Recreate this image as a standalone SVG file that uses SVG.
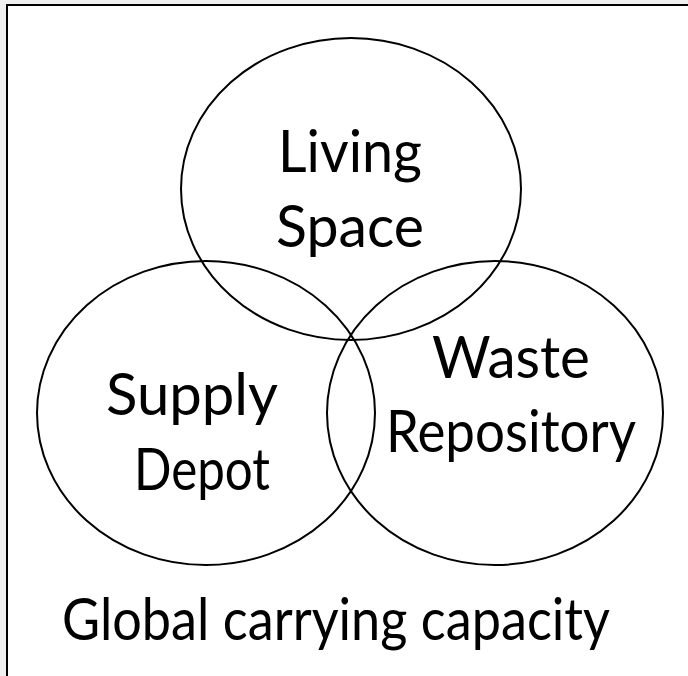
<svg xmlns="http://www.w3.org/2000/svg" width="688" height="676" viewBox="0 0 688 676">
<style>
.c{fill:none;stroke:#000;stroke-width:2}
.t{font-family:Lato,"Open Sans","Liberation Sans",sans-serif;font-size:59px;fill:#000;text-anchor:middle}
</style>
<rect x="0" y="0" width="688" height="676" fill="#f0f0f0"/>
<rect x="6" y="4" width="682" height="672" fill="#fff"/>
<path d="M7 676V5H688" fill="none" stroke="#000" stroke-width="2"/>
<g id="living">
<ellipse class="c" cx="351" cy="189" rx="170" ry="151"/>
<text class="t" x="350" y="172" textLength="144" lengthAdjust="spacingAndGlyphs">Living</text>
<text class="t" x="350" y="247" textLength="148" lengthAdjust="spacingAndGlyphs">Space</text>
</g>
<g id="supply">
<ellipse class="c" cx="206" cy="413" rx="169" ry="152"/>
<text class="t" x="192" y="415" textLength="172" lengthAdjust="spacingAndGlyphs">Supply</text>
<text class="t" x="202" y="490" textLength="136" lengthAdjust="spacingAndGlyphs">Depot</text>
</g>
<g id="waste">
<ellipse class="c" cx="495" cy="413" rx="168" ry="152"/>
<text class="t" x="511" y="378" textLength="158" lengthAdjust="spacingAndGlyphs">Waste</text>
<text class="t" x="511" y="452" textLength="250" lengthAdjust="spacingAndGlyphs">Repository</text>
</g>
<g id="caption">
<text class="t" x="336" y="640" textLength="548" lengthAdjust="spacingAndGlyphs">Global carrying capacity</text>
</g>
</svg>
